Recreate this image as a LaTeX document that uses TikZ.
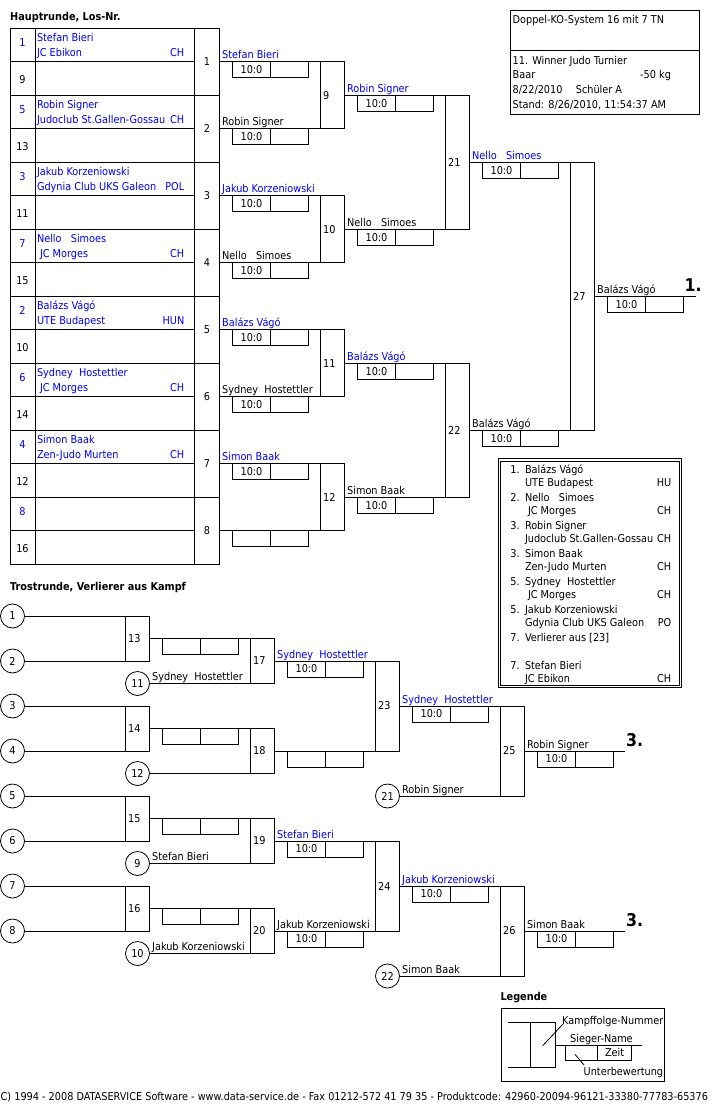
\documentclass[tikz,border=0pt]{standalone}
\usepackage{fontspec}
\setmainfont{DejaVuSansCondensed}[Extension=.ttf,BoldFont=DejaVuSansCondensed-Bold]
\definecolor{nblue}{RGB}{0,0,235}
\newcommand\nelloS{Nello\ \ \ Simoes}
\newcommand\sydH{Sydney\ \ Hostettler}
\newcommand\scp[4]{%
  \node[sc] (#1a) at ({#2+13},#3) {#4};
  \node[sc] (#1b) at (#1a.north east) {};}
\newcommand\wn[5]{\node[nm,text=#5] (#1) at ({#2+2.5},{#3-3}) {#4};}
\begin{document}
\begin{tikzpicture}[x=1pt,y=-1pt,
  font=\fontsize{10.8}{12}\selectfont,
  con/.style={line width=0.8pt},
  mb/.style={draw,line width=0.8pt,inner sep=0pt,outer sep=0pt,minimum width=24pt},
  num/.style={inner sep=0pt,anchor=west},
  sc/.style={draw,line width=0.8pt,inner sep=0pt,outer sep=0pt,minimum width=38pt,minimum height=16pt,anchor=north west},
  nm/.style={inner sep=0pt,anchor=base west},
  ce/.style={inner sep=0pt,anchor=base east},
  cir/.style={circle,draw,line width=0.8pt,inner sep=0pt,outer sep=0pt,minimum size=24pt},
  hd/.style={inner sep=0pt,anchor=base west,font=\fontsize{10.8}{12}\selectfont\bfseries},
  plc/.style={inner sep=0pt,anchor=base west,font=\fontsize{17.5}{20}\selectfont\bfseries}]
\useasboundingbox[fill=white] (0,0) rectangle (720,1110);

% ---------------- Hauptrunde ----------------
\node[hd] (h1) at (10,21) {Hauptrunde, Los-Nr.};
\draw[con] (10.5,28.3) rectangle (194.5,564.3);
\draw[con] (35.5,28.3) -- (35.5,564.3);
\foreach \i in {1,...,15} \draw[con] (10.5,{28.3+33.5*\i}) -- (194.5,{28.3+33.5*\i});

% Los numbers
\foreach \n/\yy in {1/42.8,5/109.8,3/176.8,7/243.8,2/310.8,6/377.8,4/444.8,8/511.8}
  \node[inner sep=0pt,text=nblue] (los\n) at (22.5,\yy) {\n};
\foreach \n/\yy in {9/79.3,13/146.3,11/213.3,15/280.3,10/347.3,14/414.3,12/481.3,16/548.3}
  \node[inner sep=0pt] (los\n) at (22.5,\yy) {\n};

% participants
\node[nm,text=nblue] (p1) at (36.8,41.3) {Stefan Bieri};
\node[nm,text=nblue] (q1) at (36.8,56.3) {JC Ebikon};
\node[ce,text=nblue] (k1) at (184.5,56.3) {CH};
\node[nm,text=nblue] (p5) at (36.8,108.3) {Robin Signer};
\node[nm,text=nblue] (q5) at (36.8,123.3) {Judoclub St.Gallen-Gossau};
\node[ce,text=nblue] (k5) at (184.5,123.3) {CH};
\node[nm,text=nblue] (p3) at (36.8,175.3) {Jakub Korzeniowski};
\node[nm,text=nblue] (q3) at (36.8,190.3) {Gdynia Club UKS Galeon};
\node[ce,text=nblue] (k3) at (184.5,190.3) {POL};
\node[nm,text=nblue] (p7) at (36.8,242.3) {\nelloS};
\node[nm,text=nblue] (q7) at (36.8,257.3) {\hspace*{3pt}JC Morges};
\node[ce,text=nblue] (k7) at (184.5,257.3) {CH};
\node[nm,text=nblue] (p2) at (36.8,309.3) {Balázs Vágó};
\node[nm,text=nblue] (q2) at (36.8,324.3) {UTE Budapest};
\node[ce,text=nblue] (k2) at (184.5,324.3) {HUN};
\node[nm,text=nblue] (p6) at (36.8,376.3) {\sydH};
\node[nm,text=nblue] (q6) at (36.8,391.3) {\hspace*{3pt}JC Morges};
\node[ce,text=nblue] (k6) at (184.5,391.3) {CH};
\node[nm,text=nblue] (p4) at (36.8,443.3) {Simon Baak};
\node[nm,text=nblue] (q4) at (36.8,458.3) {Zen-Judo Murten};
\node[ce,text=nblue] (k4) at (184.5,458.3) {CH};

% round 1 match boxes
\foreach \k/\cy in {1/61.8,2/128.8,3/195.8,4/262.8,5/329.8,6/396.8,7/463.8,8/530.8}
  \node[mb,minimum width=25pt,minimum height=67pt] (m\k) at (207,\cy) {\k};
% round 2
\foreach \k/\cy in {9/95.3,10/229.3,11/363.3,12/497.3}{
  \node[mb,minimum height=67pt] (m\k) at (332.5,\cy) {};
  \node[num] (l\k) at ([xshift=2.5pt]m\k.west) {\k};}
% round 3
\foreach \k/\cy in {21/162.3,22/430.3}{
  \node[mb,minimum height=134pt] (m\k) at (457.5,\cy) {};
  \node[num] (l\k) at ([xshift=2.5pt]m\k.west) {\k};}
% final
\node[mb,minimum height=268pt] (m27) at (582.5,296.3) {};
\node[num] (l27) at ([xshift=2.5pt]m27.west) {27};

% connectors
\draw[con] (m1.east) -- (m9.north west);
\draw[con] (m2.east) -- (m9.south west);
\draw[con] (m3.east) -- (m10.north west);
\draw[con] (m4.east) -- (m10.south west);
\draw[con] (m5.east) -- (m11.north west);
\draw[con] (m6.east) -- (m11.south west);
\draw[con] (m7.east) -- (m12.north west);
\draw[con] (m8.east) -- (m12.south west);
\draw[con] (m9.east) -- (m21.north west);
\draw[con] (m10.east) -- (m21.south west);
\draw[con] (m11.east) -- (m22.north west);
\draw[con] (m12.east) -- (m22.south west);
\draw[con] (m21.east) -- (m27.north west);
\draw[con] (m22.east) -- (m27.south west);
\coordinate (f1) at (696,296.3);
\draw[con] (m27.east) -- (f1);

% score boxes
\scp{s1}{219.5}{61.8}{10:0}
\scp{s2}{219.5}{128.8}{10:0}
\scp{s3}{219.5}{195.8}{10:0}
\scp{s4}{219.5}{262.8}{10:0}
\scp{s5}{219.5}{329.8}{10:0}
\scp{s6}{219.5}{396.8}{10:0}
\scp{s7}{219.5}{463.8}{10:0}
\scp{s8}{219.5}{530.8}{}
\scp{s9}{344.5}{95.3}{10:0}
\scp{s10}{344.5}{229.3}{10:0}
\scp{s11}{344.5}{363.3}{10:0}
\scp{s12}{344.5}{497.3}{10:0}
\scp{s21}{469.5}{162.3}{10:0}
\scp{s22}{469.5}{430.3}{10:0}
\scp{s27}{594.5}{296.3}{10:0}

% winner names
\wn{w1}{219.5}{61.8}{Stefan Bieri}{nblue}
\wn{w2}{219.5}{128.8}{Robin Signer}{black}
\wn{w3}{219.5}{195.8}{Jakub Korzeniowski}{nblue}
\wn{w4}{219.5}{262.8}{\nelloS}{black}
\wn{w5}{219.5}{329.8}{Balázs Vágó}{nblue}
\wn{w6}{219.5}{396.8}{\sydH}{black}
\wn{w7}{219.5}{463.8}{Simon Baak}{nblue}
\wn{w9}{344.5}{95.3}{Robin Signer}{nblue}
\wn{w10}{344.5}{229.3}{\nelloS}{black}
\wn{w11}{344.5}{363.3}{Balázs Vágó}{nblue}
\wn{w12}{344.5}{497.3}{Simon Baak}{black}
\wn{w21}{469.5}{162.3}{\nelloS}{nblue}
\wn{w22}{469.5}{430.3}{Balázs Vágó}{black}
\wn{w27}{594.5}{296.3}{Balázs Vágó}{black}
\node[plc] (first) at (684.5,291.7) {1.};

% info box
\draw[con] (510.5,10.5) rectangle (699.5,114.5);
\draw[con] (510.5,50.5) -- (699.5,50.5);
\node[nm] (i1) at (512.5,24) {Doppel-KO-System 16 mit 7 TN};
\node[nm] (i2) at (512.5,65) {11. Winner Judo Turnier};
\node[nm] (i3) at (512.5,79) {Baar};
\node[nm] (i4) at (640,79) {-50 kg};
\node[nm] (i5) at (512.5,94) {8/22/2010};
\node[nm] (i6) at (575.7,94) {Schüler A};
\node[nm] (i7) at (512.5,109) {Stand: 8/26/2010, 11:54:37 AM};

% ranking box
\draw[con] (498,458.7) rectangle (681.7,687.3);
\draw[con] (500.4,461) rectangle (679.3,685);
\foreach \i/\r/\nme/\club/\ct in {0/1./Balázs Vágó/UTE Budapest/HU,
   1/2./\nelloS/\hspace*{3pt}JC Morges/CH,
   2/3./Robin Signer/Judoclub St.Gallen-Gossau/CH,
   3/3./Simon Baak/Zen-Judo Murten/CH,
   4/5./\sydH/\hspace*{3pt}JC Morges/CH,
   5/5./Jakub Korzeniowski/Gdynia Club UKS Galeon/PO,
   7/7./Stefan Bieri/JC Ebikon/CH}{
  \node[nm] (rk\i) at (510.2,{473.3+28*\i}) {\r};
  \node[nm] (rn\i) at (524.8,{473.3+28*\i}) {\nme};
  \node[nm] (rc\i) at (524.8,{486.6+28*\i}) {\club};
  \node[ce] (rl\i) at (671.5,{486.6+28*\i}) {\ct};}
\node[nm] (rk6) at (510.2,641.3) {7.};
\node[nm] (rn6) at (524.8,641.3) {Verlierer aus [23]};

% ---------------- Trostrunde ----------------
\node[hd] (h2) at (10,590.7) {Trostrunde, Verlierer aus Kampf};
\foreach \k/\cy in {1/616,2/661,3/706,4/751,5/796,6/841,7/886,8/931}
  \node[cir] (c\k) at (12.5,\cy) {\k};
\node[cir] (c11) at (137.5,683.5) {11};
\node[cir] (c12) at (137.5,773.5) {12};
\node[cir] (c9) at (137.5,863.5) {9};
\node[cir] (c10) at (137.5,953.5) {10};
\node[cir] (c21) at (387.5,796) {21};
\node[cir] (c22) at (387.5,976) {22};

\foreach \k/\cx/\cy/\h in {13/137.5/638.5/45,14/137.5/728.5/45,15/137.5/818.5/45,16/137.5/908.5/45,
  17/262.5/661/45,18/262.5/751/45,19/262.5/841/45,20/262.5/931/45,
  23/387.5/706/90,24/387.5/886/90,25/512.5/751/90,26/512.5/931/90}{
  \node[mb,minimum height=\h pt] (m\k) at (\cx,\cy) {};
  \node[num] (l\k) at ([xshift=2.5pt]m\k.west) {\k};}

\draw[con] (c1) -- (m13.north west);
\draw[con] (c2) -- (m13.south west);
\draw[con] (c3) -- (m14.north west);
\draw[con] (c4) -- (m14.south west);
\draw[con] (c5) -- (m15.north west);
\draw[con] (c6) -- (m15.south west);
\draw[con] (c7) -- (m16.north west);
\draw[con] (c8) -- (m16.south west);
\draw[con] (m13.east) -- (m17.north west);
\draw[con] (c11) -- (m17.south west);
\draw[con] (m14.east) -- (m18.north west);
\draw[con] (c12) -- (m18.south west);
\draw[con] (m15.east) -- (m19.north west);
\draw[con] (c9) -- (m19.south west);
\draw[con] (m16.east) -- (m20.north west);
\draw[con] (c10) -- (m20.south west);
\draw[con] (m17.east) -- (m23.north west);
\draw[con] (m18.east) -- (m23.south west);
\draw[con] (m19.east) -- (m24.north west);
\draw[con] (m20.east) -- (m24.south west);
\draw[con] (m23.east) -- (m25.north west);
\draw[con] (c21) -- (m25.south west);
\draw[con] (m24.east) -- (m26.north west);
\draw[con] (c22) -- (m26.south west);
\coordinate (e25) at (625,751);
\coordinate (e26) at (625,931);
\draw[con] (m25.east) -- (e25);
\draw[con] (m26.east) -- (e26);

\scp{t13}{149.5}{638.5}{}
\scp{t14}{149.5}{728.5}{}
\scp{t15}{149.5}{818.5}{}
\scp{t16}{149.5}{908.5}{}
\scp{t17}{274.5}{661}{10:0}
\scp{t18}{274.5}{751}{}
\scp{t19}{274.5}{841}{10:0}
\scp{t20}{274.5}{931}{10:0}
\scp{t23}{399.5}{706}{10:0}
\scp{t24}{399.5}{886}{10:0}
\scp{t25}{524.5}{751}{10:0}
\scp{t26}{524.5}{931}{10:0}

\wn{v17}{274.5}{661}{\sydH}{nblue}
\wn{v19}{274.5}{841}{Stefan Bieri}{nblue}
\wn{v20}{274.5}{931}{Jakub Korzeniowski}{black}
\wn{v23}{399.5}{706}{\sydH}{nblue}
\wn{v24}{399.5}{886}{Jakub Korzeniowski}{nblue}
\wn{v25}{524.5}{751}{Robin Signer}{black}
\wn{v26}{524.5}{931}{Simon Baak}{black}
\wn{u11}{149.5}{683.5}{\sydH}{black}
\wn{u9}{149.5}{863.5}{Stefan Bieri}{black}
\wn{u10}{149.5}{953.5}{Jakub Korzeniowski}{black}
\wn{u21}{399.5}{796}{Robin Signer}{black}
\wn{u22}{399.5}{976}{Simon Baak}{black}
\node[plc] (third1) at (626,746.4) {3.};
\node[plc] (third2) at (626,926.4) {3.};

% ---------------- Legende ----------------
\node[hd] (h3) at (500.3,1000.7) {Legende};
\draw[con] (501.5,1008) rectangle (664,1081.5);
\draw[con] (507.5,1022.5) -- (530.5,1022.5);
\draw[con] (530.5,1022.5) rectangle (555,1067);
\draw[con] (507.5,1067) -- (530.5,1067);
\draw[con] (555,1045.5) -- (641.5,1045.5);
\draw[con] (565.5,1045.5) rectangle (631.5,1060);
\draw[con] (597.7,1045.5) -- (597.7,1060);
\draw[con] (542.7,1045.7) -- (562.7,1024.3);
\draw[con] (575,1054.3) -- (584,1065);
\node[nm] (g1) at (562,1024) {Kampffolge-Nummer};
\node[nm] (g2) at (570,1042) {Sieger-Name};
\node[inner sep=0pt] (g3) at (614.6,1052.8) {Zeit};
\node[nm] (g4) at (583.5,1075) {Unterbewertung};

% footer
\node[nm] (foot) at (0.5,1100.5) {C) 1994 - 2008 DATASERVICE Software - www.data-service.de - Fax 01212-572 41 79 35 - Produktcode: 42960-20094-96121-33380-77783-65376};
\end{tikzpicture}
\end{document}
